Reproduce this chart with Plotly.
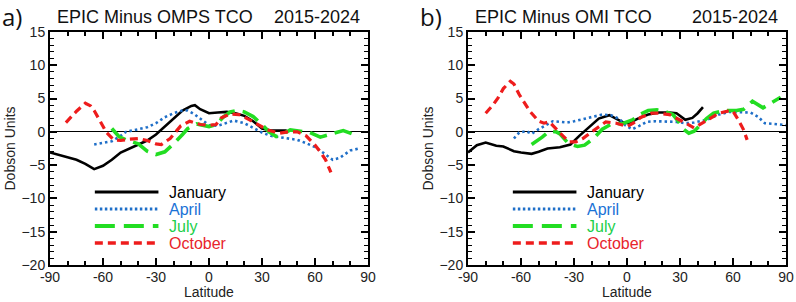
import plotly.graph_objects as go

# ---------------- Data ----------------
# Panel a) EPIC minus OMPS TCO
a_jan_lat = [-90, -85, -80, -75, -70, -65, -60, -55, -50, -45, -40, -35, -30, -25, -20, -15, -10, -8, -5, 0, 5, 10, 15, 20, 25, 30, 35, 40, 44]
a_jan_val = [-3.1, -3.5, -3.8, -4.2, -4.8, -5.6, -5.1, -4.2, -3.1, -2.5, -2.0, -1.3, -0.4, 0.8, 2.1, 3.2, 3.9, 4.0, 3.4, 2.8, 2.9, 3.0, 2.8, 2.4, 1.6, 0.5, 0.2, 0.2, 0.2]

a_apr_lat = [-65, -60, -55, -50, -47, -40, -35, -30, -25, -20, -15, -12, -8, -4, 0, 5, 10, 14, 20, 25, 30, 35, 40, 45, 50, 55, 60, 65, 70, 74, 80, 85]
a_apr_val = [-1.9, -1.7, -1.4, -0.6, 0.0, 0.4, 0.7, 1.3, 2.2, 2.8, 3.2, 3.2, 2.6, 1.8, 1.0, 0.9, 1.4, 1.7, 1.3, 0.6, -0.1, -0.6, -0.8, -1.0, -1.2, -1.7, -2.3, -3.2, -4.2, -3.9, -2.8, -2.5]

a_jul_lat = [-55, -51, -47, -44, -40, -35, -30, -25, -20, -15, -12, -7, -3, 0, 4, 8, 12, 16, 20, 25, 30, 34, 38, 42, 46, 52, 57, 63, 70, 76, 85]
a_jul_val = [0.5, -0.7, -1.2, -1.5, -1.8, -2.9, -3.4, -3.0, -1.8, -0.4, 0.5, 1.2, 0.9, 0.8, 1.1, 2.2, 3.0, 3.2, 3.0, 2.3, 1.1, 0.0, -0.7, -0.3, 0.3, 0.1, -0.1, -0.8, -0.3, 0.2, -0.7]

a_oct_lat = [-81, -78, -75, -70, -67, -65, -62, -58, -54, -50, -45, -40, -35, -30, -27, -22, -16, -11, -5, 0, 4, 7, 12, 17, 23, 28, 33, 40, 45, 50, 55, 60, 63, 66, 69]
a_oct_val = [1.4, 2.3, 3.1, 4.3, 3.9, 3.2, 1.8, -0.1, -1.2, -1.3, -1.1, -1.0, -1.3, -1.8, -1.9, -1.0, 0.9, 1.6, 1.1, 1.0, 1.1, 2.1, 2.7, 2.6, 1.8, 1.0, 0.3, -0.2, 0.0, 0.0, -0.6, -2.0, -3.0, -4.2, -6.1]

# Panel b) EPIC minus OMI TCO
b_jan_lat = [-90, -85, -80, -74, -70, -64, -60, -54, -50, -45, -38, -32, -27, -21, -16, -10, -6, -2, 1, 7, 12, 18, 24, 28, 33, 37, 40, 43]
b_jan_val = [-3.1, -2.0, -1.6, -2.1, -2.2, -2.9, -3.1, -3.3, -3.0, -2.5, -2.3, -1.9, -0.6, 0.8, 2.0, 2.5, 1.9, 1.4, 1.3, 2.1, 2.6, 2.9, 2.9, 2.8, 1.8, 2.1, 2.8, 3.7]

b_apr_lat = [-64, -61, -57, -54, -50, -46, -42, -38, -34, -30, -25, -20, -14, -9, -4, -1, 3, 7, 11, 16, 22, 28, 33, 38, 45, 52, 58, 64, 70, 74, 78, 83, 90]
b_apr_val = [-1.0, -0.1, 0.1, -0.3, 0.4, 1.0, 1.6, 1.5, 1.4, 1.6, 1.9, 2.3, 2.6, 2.5, 1.9, 1.0, 0.4, 0.9, 1.5, 1.6, 1.5, 1.5, 1.3, 1.4, 1.8, 2.6, 3.0, 3.0, 2.9, 2.3, 1.3, 1.2, 1.0]

b_jul_lat = [-54, -48, -44, -40, -38, -33, -28, -24, -19, -14, -8, -3, 3, 8, 12, 17, 22, 26, 29, 32, 35, 38, 41, 45, 49, 55, 62, 66, 71, 77, 82, 87]
b_jul_val = [-1.9, -0.8, 0.1, 0.0, -0.3, -1.8, -2.2, -2.0, -1.0, 0.4, 1.3, 1.2, 1.8, 2.7, 3.2, 3.3, 3.0, 2.6, 1.6, 0.4, -0.2, 0.1, 0.9, 2.0, 2.8, 3.2, 3.2, 3.4, 4.6, 3.6, 4.4, 5.2]

b_oct_lat = [-80, -76, -73, -70, -66, -64, -61, -58, -55, -50, -47, -44, -40, -36, -33, -29, -25, -21, -17, -12, -6, 0, 4, 8, 14, 18, 24, 30, 34, 38, 42, 47, 52, 57, 60, 63, 66, 68]
b_oct_val = [2.8, 4.0, 5.1, 6.5, 7.6, 7.2, 5.6, 4.3, 3.1, 1.6, 1.3, 1.5, 0.4, -0.8, -1.5, -1.5, -1.0, -0.2, 0.6, 1.5, 1.3, 0.8, 1.4, 2.2, 2.8, 2.8, 2.6, 1.8, 1.2, 0.6, 1.2, 2.0, 2.8, 3.1, 3.1, 1.8, 0.3, -1.2]

months = ["January", "April", "July", "October"]
x_ticks = [-90, -60, -30, 0, 30, 60, 90]
x_ticklabels = ["-90", "-60", "-30", "0", "30", "60", "90"]
y_ticks = [-20, -15, -10, -5, 0, 5, 10, 15]

# ---------------- Styles ----------------
line_colors = ["#000000", "#1f6fc8", "#22dd22", "#ee1c1c"]
text_colors = ["#000000", "#1a72d6", "#1ccf4a", "#e8242c"]
dashes = ["solid", "2.5px,3px", "18px,8px", "8px,5px"]
widths = [2.6, 2.6, 3.6, 3.2]
leg_widths = [3.2, 3.0, 4.0, 3.6]
leg_dashes = ["solid", "2.5px,2.5px", "20px,9px", "8px,5px"]

W, H = 796, 302
FONT = "Liberation Sans, Arial, sans-serif"

panels = [
    dict(data=[(a_jan_lat, a_jan_val), (a_apr_lat, a_apr_val), (a_jul_lat, a_jul_val), (a_oct_lat, a_oct_val)],
         xa="x", ya="y", x0=50, x1=368, label="a)",
         title="EPIC Minus OMPS TCO"),
    dict(data=[(b_jan_lat, b_jan_val), (b_apr_lat, b_apr_val), (b_jul_lat, b_jul_val), (b_oct_lat, b_oct_val)],
         xa="x2", ya="y2", x0=468, x1=786, label="b)",
         title="EPIC Minus OMI TCO"),
]
y_top, y_bot = 32, 265

fig = go.Figure()
shapes = []
annotations = []

for p in panels:
    for i, (lat, val) in enumerate(p["data"]):
        fig.add_trace(go.Scatter(
            x=lat, y=val, mode="lines", xaxis=p["xa"], yaxis=p["ya"],
            line=dict(color=line_colors[i], width=widths[i], dash=dashes[i]),
            showlegend=False, hoverinfo="skip"))
    xd = p["xa"] + " domain"
    yd = p["ya"] + " domain"
    # legend samples + text
    leg_y = [192, 209, 226, 243]
    for i, m in enumerate(months):
        fy = (y_bot - leg_y[i]) / (y_bot - y_top)
        shapes.append(dict(type="line", xref=xd, yref=yd, x0=0.141, x1=0.341, y0=fy, y1=fy,
                           line=dict(color=line_colors[i], width=leg_widths[i], dash=leg_dashes[i])))
        annotations.append(dict(xref=xd, yref=yd, x=0.368, y=fy, xanchor="left", yanchor="middle",
                                text=m, showarrow=False,
                                font=dict(family=FONT, size=16, color=text_colors[i])))
    # titles
    annotations.append(dict(xref="paper", yref="paper", x=(p["x0"] + 5) / W, y=1 - 17 / H,
                            xanchor="left", yanchor="middle", text=p["title"], showarrow=False,
                            font=dict(family=FONT, size=18, color="#111")))
    annotations.append(dict(xref="paper", yref="paper", x=(p["x1"] - 6) / W, y=1 - 17 / H,
                            xanchor="right", yanchor="middle", text="2015-2024", showarrow=False,
                            font=dict(family=FONT, size=18, color="#111")))
    annotations.append(dict(xref="paper", yref="paper", x=(p["x0"] - 50) / W, y=1 - 16 / H,
                            xanchor="left", yanchor="middle", text=p["label"], showarrow=False,
                            font=dict(family="Open Sans, sans-serif", size=24, color="#111")))
    annotations.append(dict(xref="paper", yref="paper", x=(p["x0"] - 41) / W, y=1 - 148.5 / H,
                            xanchor="center", yanchor="middle", text="Dobson Units", textangle=-90,
                            showarrow=False, font=dict(family=FONT, size=14, color="#222")))
    annotations.append(dict(xref="paper", yref="paper", x=(p["x0"] + p["x1"]) / 2 / W, y=0,
                            xanchor="center", yanchor="bottom", text="Latitude",
                            showarrow=False, font=dict(family=FONT, size=14, color="#222")))

xcommon = dict(range=[-90, 90], tickmode="array", tickvals=x_ticks, ticktext=x_ticklabels,
               ticks="inside", ticklen=7,
               tickwidth=1.5, tickcolor="black", showline=True, linewidth=2, linecolor="black",
               mirror="allticks", showgrid=False, zeroline=False, automargin=False,
               ticklabeloverflow="allow", ticklabelstandoff=-2,
               minor=dict(tickmode="linear", tick0=-90, dtick=10, ticks="inside", ticklen=4,
                          tickwidth=1.5, tickcolor="black", showgrid=False),
               tickfont=dict(family=FONT, size=14, color="#222"), fixedrange=True)
ycommon = dict(range=[-20, 15], tickmode="array", tickvals=y_ticks, ticks="inside", ticklen=7,
               tickwidth=1.5, tickcolor="black", showline=True, linewidth=2, linecolor="black",
               mirror="allticks", showgrid=False, zeroline=True, zerolinecolor="black",
               zerolinewidth=1, automargin=False,
               minor=dict(tickmode="linear", tick0=-20, dtick=1, ticks="inside", ticklen=4,
                          tickwidth=1.2, tickcolor="black", showgrid=False),
               tickfont=dict(family=FONT, size=14, color="#222"), fixedrange=True)

yd = [(H - y_bot) / H, (H - y_top) / H]
fig.update_layout(
    width=W, height=H, margin=dict(l=0, r=0, t=0, b=0, autoexpand=False),
    paper_bgcolor="white", plot_bgcolor="white",
    xaxis=dict(domain=[50 / W, 368 / W], anchor="y", **xcommon),
    yaxis=dict(domain=yd, anchor="x", **ycommon),
    xaxis2=dict(domain=[468 / W, 786 / W], anchor="y2", **xcommon),
    yaxis2=dict(domain=yd, anchor="x2", **ycommon),
    shapes=shapes, annotations=annotations, showlegend=False,
)

fig.write_html("out.html", config={"displayModeBar": False},
               post_script="document.body.style.margin='0px';document.body.style.overflow='hidden';")
